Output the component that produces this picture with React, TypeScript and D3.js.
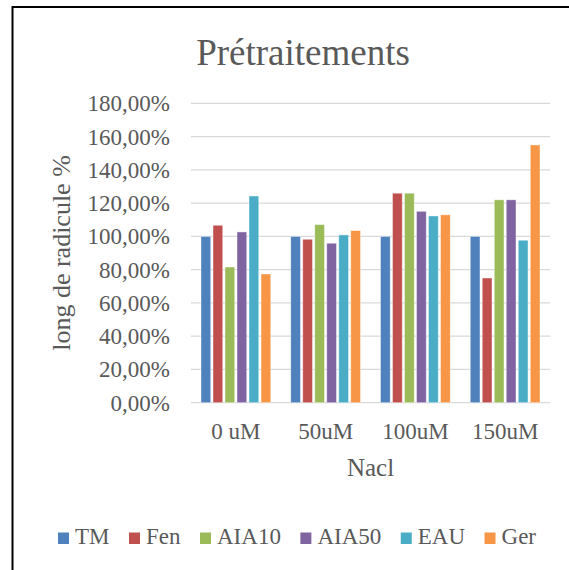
import React from "react";
import * as d3 from "d3";

const categories = ["0 uM", "50uM", "100uM", "150uM"];
const seriesNames = ["TM", "Fen", "AIA10", "AIA50", "EAU", "Ger"];
const seriesColors = ["#4F81BD", "#C0504D", "#9BBB59", "#8064A2", "#4BACC6", "#F79646"];
const TM = [1.0, 1.0, 1.0, 1.0];
const Fen = [1.067, 0.983, 1.26, 0.75];
const AIA10 = [0.816, 1.071, 1.26, 1.22];
const AIA50 = [1.027, 0.959, 1.151, 1.22];
const EAU = [1.243, 1.009, 1.123, 0.977];
const Ger = [0.774, 1.035, 1.13, 1.55];
const seriesValues = [TM, Fen, AIA10, AIA50, EAU, Ger];
const yTicks = [0, 0.2, 0.4, 0.6, 0.8, 1.0, 1.2, 1.4, 1.6, 1.8];
const title = "Prétraitements";
const xTitle = "Nacl";
const yTitle = "long de radicule %";

const W = 569;
const H = 570;
const FONT = "Liberation Serif";
const TEXT = "#595959";

function measure(s: string, size: number): number {
  if (typeof document === "undefined") return s.length * size * 0.5;
  const c = document.createElement("canvas").getContext("2d");
  if (!c) return s.length * size * 0.5;
  c.font = `${size}px "${FONT}"`;
  return c.measureText(s).width;
}

export default function App() {
  const left = 191, right = 550, top = 103.4, bottom = 402.7;
  const fr = d3.formatLocale({ decimal: ",", thousands: " ", grouping: [3], currency: ["", "€"] });
  const fmt = fr.format(".2%");

  const x0 = d3.scaleBand().domain(categories).range([left, right]).padding(0);
  const x1 = d3.scaleBand().domain(seriesNames)
    .range([10, x0.bandwidth() - 10]).paddingInner(0.19).paddingOuter(0);
  const y = d3.scaleLinear().domain([0, 1.8]).range([bottom, top]);

  const gap = 19.5;
  const widths = seriesNames.map((s) => 17 + measure(s, 23));
  const total = d3.sum(widths) + gap * (widths.length - 1);
  const offsets: number[] = [];
  let cx = 297 - total / 2;
  widths.forEach((w) => {
    offsets.push(cx);
    cx += w + gap;
  });

  return (
    <svg width={W} height={H} style={{ display: "block", position: "absolute", left: 0, top: 0 }} fontFamily={FONT}>
      <rect width={W} height={H} fill="#fff" />
      <rect x={12.5} y={7} width={700} height={700} fill="none" stroke="#000" strokeWidth={2} />
      <g>
        {yTicks.map((t) => (
          <line key={t} x1={left} x2={right} y1={y(t)} y2={y(t)} stroke="#d9d9d9" strokeWidth={1.3} />
        ))}
      </g>
      <g>
        {yTicks.map((t) => (
          <text key={t} x={170} y={y(t)} dy="0.35em" textAnchor="end" fontFamily={FONT} fontSize={23} fill={TEXT}>
            {fmt(t)}
          </text>
        ))}
      </g>
      <g>
        {seriesNames.map((s, si) => (
          <g key={s}>
            {seriesValues[si].map((v, i) => (
              <rect
                key={i}
                x={(x0(categories[i]) as number) + (x1(s) as number)}
                y={y(v)}
                width={x1.bandwidth()}
                height={y(0) - y(v)}
                fill={seriesColors[si]}
                stroke="#fff"
                strokeOpacity={0.5}
                strokeWidth={0.8}
              />
            ))}
          </g>
        ))}
      </g>
      <g>
        {categories.map((c) => (
          <text key={c} x={(x0(c) as number) + x0.bandwidth() / 2} y={439} textAnchor="middle" fontFamily={FONT} fontSize={23} fill={TEXT}>
            {c}
          </text>
        ))}
      </g>
      <text x={(left + right) / 2} y={476} textAnchor="middle" fontFamily={FONT} fontSize={25} fill={TEXT}>
        {xTitle}
      </text>
      <text transform="translate(70,253) rotate(-90)" textAnchor="middle" fontFamily={FONT} fontSize={26} fill={TEXT}>
        {yTitle}
      </text>
      <text x={303} y={65} textAnchor="middle" fontFamily={FONT} fontSize={37} fill={TEXT}>
        {title}
      </text>
      <g>
        {seriesNames.map((s, i) => (
          <g key={s} transform={`translate(${offsets[i]},544)`}>
            <rect x={0} y={-11.5} width={11} height={11.5} fill={seriesColors[i]} />
            <text x={17} y={0} fontFamily={FONT} fontSize={23} fill={TEXT}>
              {s}
            </text>
          </g>
        ))}
      </g>
    </svg>
  );
}
